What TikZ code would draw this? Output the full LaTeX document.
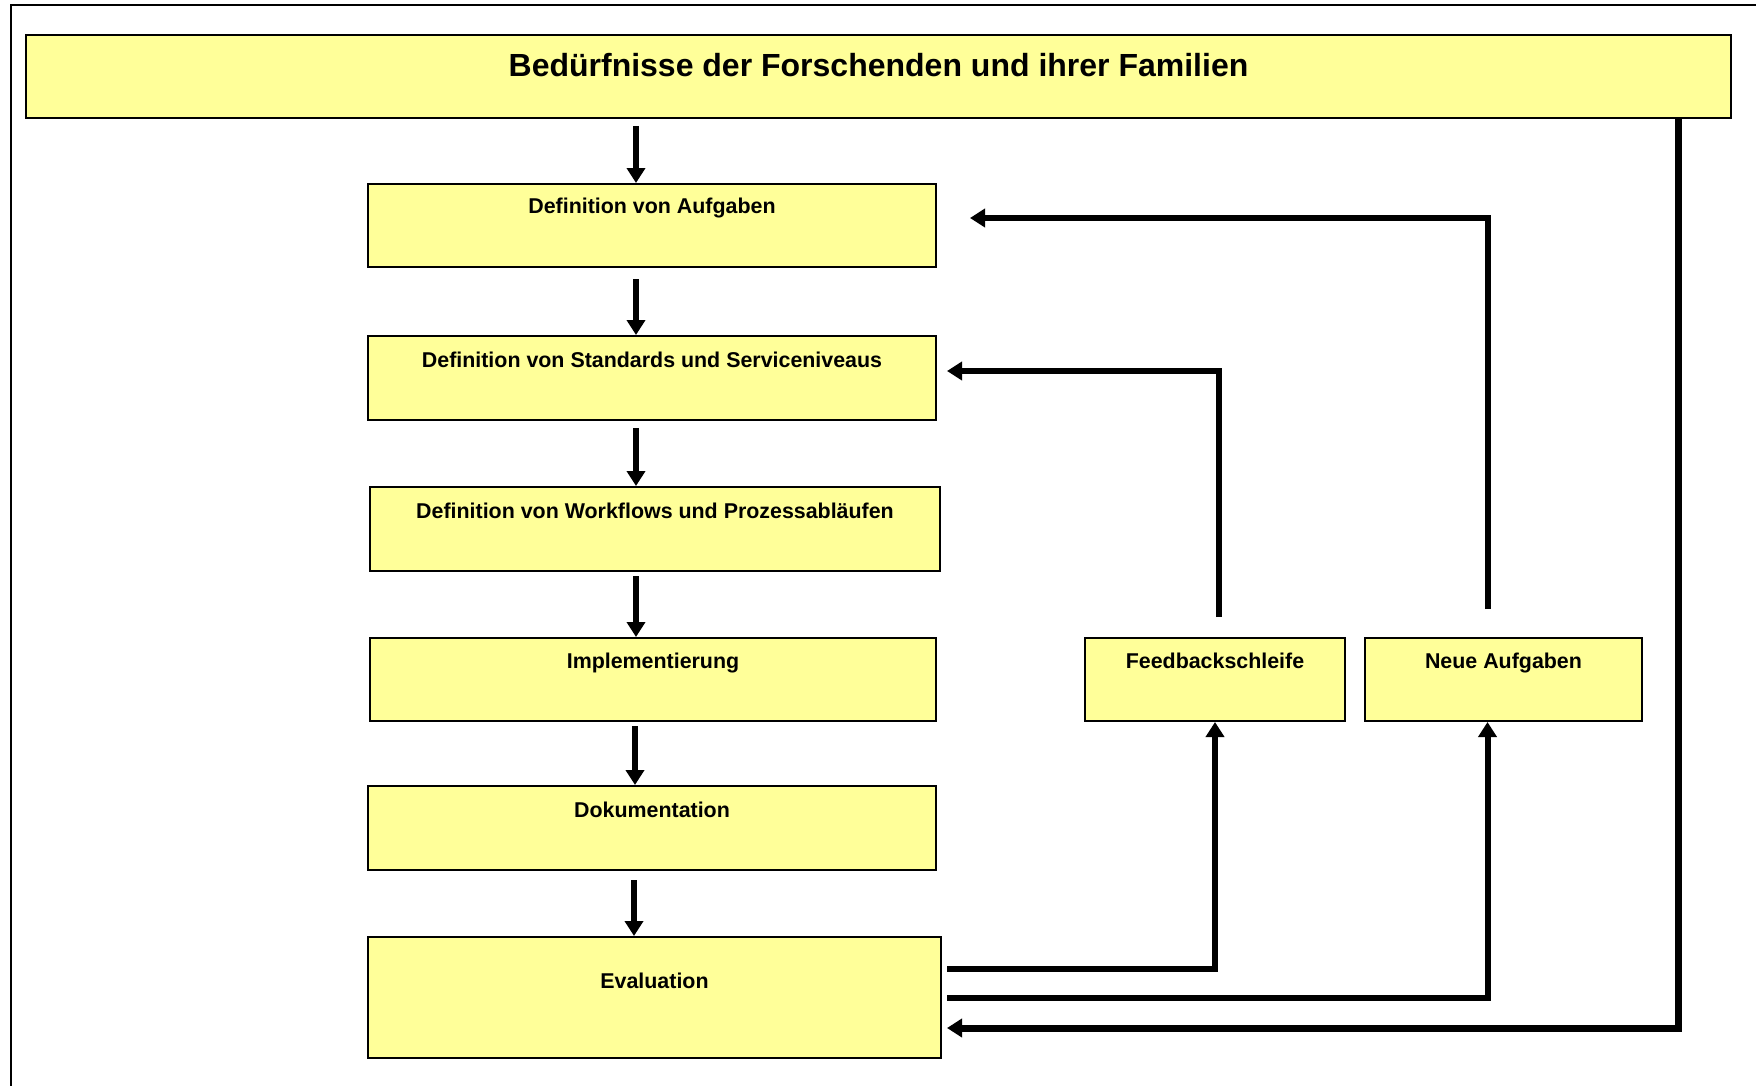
\documentclass[tikz,border=0pt]{standalone}
\usepackage{fontspec}
\setmainfont{Liberation Sans}
\usetikzlibrary{arrows.meta,calc}
\definecolor{boxyellow}{HTML}{FFFF99}
\begin{document}
\begin{tikzpicture}[x=0.5pt,y=-0.5pt,
  box/.style={draw=black, line width=1pt, fill=boxyellow, inner sep=0pt},
  lbl/.style={font=\fontsize{10.7}{12}\selectfont\bfseries, inner sep=0pt, text height=7.7pt, text depth=0pt},
  ttl/.style={font=\fontsize{16}{18}\selectfont\bfseries, inner sep=0pt, text height=11.5pt, text depth=0pt},
  conn/.style={line width=3pt},
  arr/.style={line width=3pt, -{Triangle[length=7.5pt,width=9pt]}},
]
\useasboundingbox (0,0) rectangle (1756,1086);
\draw[line width=1pt] (11,1090) -- (11,5) -- (1760,5);

% boxes
\node[box, minimum width=852.5pt, minimum height=41.5pt] (title) at (878.5,76.5) {};
\node[box, minimum width=284pt, minimum height=41.5pt] (b1) at (652,225.5) {};
\node[box, minimum width=284pt, minimum height=42pt] (b2) at (652,378) {};
\node[box, minimum width=285pt, minimum height=42pt] (b3) at (655,529) {};
\node[box, minimum width=283pt, minimum height=41.5pt] (b4) at (653,679.5) {};
\node[box, minimum width=284pt, minimum height=42pt] (b5) at (652,828) {};
\node[box, minimum width=286.5pt, minimum height=60.5pt] (b6) at (654.5,997.5) {};
\node[box, minimum width=130pt, minimum height=41.5pt] (fb) at (1215,679.5) {};
\node[box, minimum width=138.5pt, minimum height=41.5pt] (na) at (1503.5,679.5) {};

% texts
\node[ttl] (ttitle) at (878.5,65) {Bedürfnisse der Forschenden und ihrer Familien};
\node[lbl] (t1) at (652,206) {Definition von Aufgaben};
\node[lbl] (t2) at (652,359.5) {Definition von Standards und Serviceniveaus};
\node[lbl] (t3) at (655,511) {Definition von Workflows und Prozessabläufen};
\node[lbl] (t4) at (653,661) {Implementierung};
\node[lbl] (t5) at (652,810) {Dokumentation};
\node[lbl] (t6) at (654.5,981) {Evaluation};
\node[lbl] (tf) at (1215,661) {Feedbackschleife};
\node[lbl] (tn) at (1503.5,661) {Neue Aufgaben};

% main column arrows
\coordinate (cx) at (636,0);
\draw[arr] ($(cx |- title.south)+(0,7)$) -- (cx |- b1.north);
\draw[arr] ($(cx |- b1.south)+(0,11)$) -- (cx |- b2.north);
\draw[arr] ($(cx |- b2.south)+(0,7)$) -- (cx |- b3.north);
\draw[arr] ($(cx |- b3.south)+(0,4)$) -- (cx |- b4.north);
\draw[arr] ($(cx |- b4.south)+(-1,4)$) -- ($(cx |- b5.north)+(-1,0)$);
\draw[arr] ($(cx |- b5.south)+(-2,9)$) -- ($(cx |- b6.north)+(-2,0)$);

% feedback loops
\draw[arr] ([xshift=2.5pt,yshift=14.25pt]b6.east) -| (fb.south);
\draw[arr] ([xshift=2.5pt]b6.east) -| ([xshift=-8pt]na.south);
\draw[arr] ([xshift=2pt,yshift=10pt]fb.north) |- ([xshift=5pt,yshift=3.5pt]b2.east);
\draw[arr] ([xshift=-8pt,yshift=14pt]na.north) |- ([xshift=16.5pt,yshift=3.75pt]b1.east);
\coordinate (rx) at (1678,0);
\draw[arr, line width=3.5pt] (rx |- title.south) |- ([xshift=2.5pt,yshift=-15.25pt]b6.east);
\end{tikzpicture}
\end{document}
